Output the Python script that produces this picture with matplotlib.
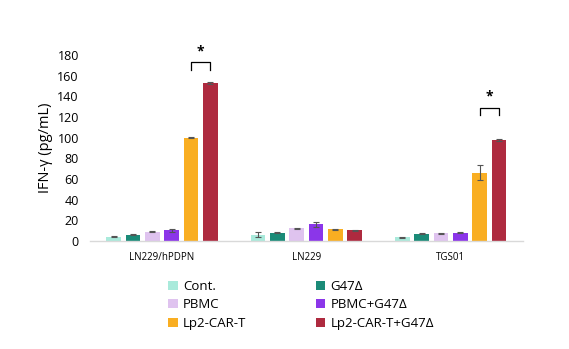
import numpy as np
import matplotlib
matplotlib.use("Agg")
import matplotlib.pyplot as plt
from matplotlib.patches import Patch

plt.rcParams['font.family'] = ['Open Sans', 'DejaVu Sans']

# cell lines and treatments
cells = ['LN229/hPDPN', 'LN229', 'TGS01']
groups = ['Cont.', 'G47Δ', 'PBMC', 'PBMC+G47Δ', 'Lp2-CAR-T', 'Lp2-CAR-T+G47Δ']
colors = ['#a9eadb', '#1b8b78', '#dfc3ef', '#8b36e9', '#f9ae22', '#ae2a3f']

# IFN-gamma means (pg/mL), one row per treatment, one column per cell line
means = [
    [4, 6, 3.5],
    [6, 8, 7],
    [9, 12, 7.5],
    [10, 16, 8],
    [100, 11, 66],
    [153, 10, 98],
]
errs = [
    [0.6, 2.5, 0.6],
    [0.5, 0.5, 0.5],
    [0.6, 0.6, 0.5],
    [1.7, 2.5, 0.4],
    [0.8, 0.5, 7.5],
    [1.2, 0.5, 1.0],
]

# significance brackets: (cell index, bracket height, leg bottom)
sig = [(0, 173, 165.5), (2, 129, 122)]

fig = plt.figure(figsize=(5.69, 3.49), dpi=100)
ax = fig.add_axes([0.158, 0.31, 0.761, 0.532])

x = np.arange(len(cells))
n = len(groups)
step = 0.134
width = step * 0.76
for i, (g, c) in enumerate(zip(groups, colors)):
    pos = x + (i - (n - 1) / 2) * step
    ax.bar(pos, means[i], width, color=c, edgecolor='none',
           yerr=errs[i], error_kw=dict(ecolor='#555555', elinewidth=0.8, capsize=2.5, capthick=0.8),
           label=g, zorder=2)

for ci, top, leg in sig:
    x1 = ci + (4 - (n - 1) / 2) * step
    x2 = ci + (5 - (n - 1) / 2) * step
    ax.plot([x1, x1, x2, x2], [leg, top, top, leg], color='black', lw=0.9, clip_on=False)
    ax.text((x1 + x2) / 2, top + 4, '*', ha='center', va='bottom', fontsize=10,
            fontweight='bold', clip_on=False)

ax.set_xlim(-0.5, len(cells) - 0.5)
ax.set_ylim(0, 180)
ax.set_yticks(np.arange(0, 181, 20))
ax.set_xticks(x)
ax.set_xticklabels(cells, fontsize=7)
ax.tick_params(axis='y', labelsize=9, length=0, pad=8)
ax.tick_params(axis='x', length=0, pad=8)
for s in ['top', 'right', 'left']:
    ax.spines[s].set_visible(False)
ax.spines['bottom'].set_color('#d9d9d9')
ax.spines['bottom'].set_linewidth(1)
ax.set_ylabel('IFN-γ (pg/mL)', fontsize=10.5, labelpad=3)

# legend filled row by row: two entries per row
order = [0, 2, 4, 1, 3, 5]
handles = [Patch(facecolor=colors[k], edgecolor='none') for k in order]
labels = [groups[k] for k in order]
fig.legend(handles, labels, loc='upper left', bbox_to_anchor=(0.275, 0.232), ncol=2,
           frameon=False, fontsize=9.5, handlelength=0.7, handleheight=0.7,
           handletextpad=0.4, columnspacing=5.3, labelspacing=0.42)

fig.savefig('out.png', dpi=100)
